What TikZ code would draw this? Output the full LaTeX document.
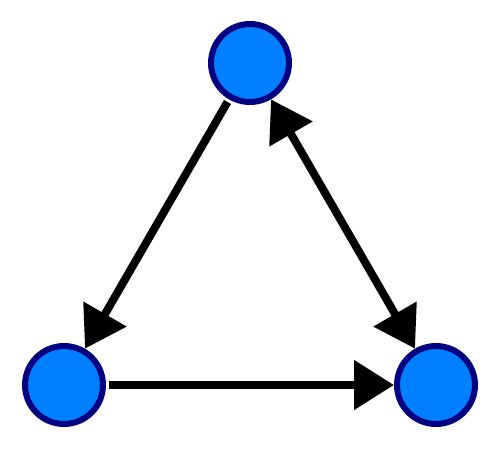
\documentclass[tikz,border=0pt]{standalone}
\usetikzlibrary{arrows.meta}
\definecolor{nodefill}{RGB}{0,128,255}
\definecolor{nodeborder}{RGB}{0,0,128}
\begin{document}
\begin{tikzpicture}[x=0.02cm,y=-0.02cm,
  vertex/.style={circle,draw=nodeborder,fill=nodefill,line width=0.12cm,minimum size=1.56cm,inner sep=0pt},
  edge/.style={line width=0.16cm,black,-{Triangle[length=0.8cm,width=0.96cm]},shorten <=0.06cm},
  biedge/.style={line width=0.16cm,black,{Triangle[length=0.8cm,width=0.96cm]}-{Triangle[length=0.8cm,width=0.96cm]}}]
\useasboundingbox (0,0) rectangle (500,450);
\node[vertex] (t) at (250,63) {};
\node[vertex] (l) at (64,385) {};
\node[vertex] (r) at (436,385) {};
\draw[edge] (t) -- (l);
\draw[edge] (l) -- (r);
\draw[biedge] (t) -- (r);
\end{tikzpicture}
\end{document}
